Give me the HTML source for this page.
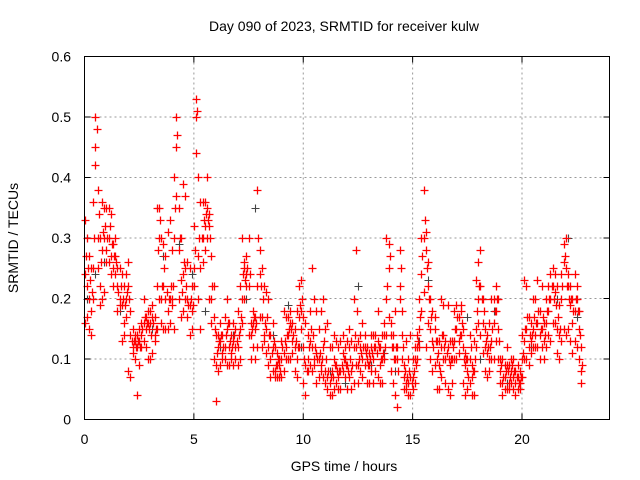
<!DOCTYPE html>
<html><head><meta charset="utf-8"><style>
html,body{margin:0;padding:0;background:#fff;}
svg{display:block;font-family:"Liberation Sans",sans-serif;}
.rp{stroke:#ff0000;stroke-width:1.3;fill:none;}
.gp{stroke:#444444;stroke-width:1.1;fill:none;}
</style></head><body>
<svg id="chart" width="640" height="480" viewBox="0 0 640 480">
<text x="344" y="31" font-size="14" text-anchor="middle" fill="#000">Day 090 of 2023, SRMTID for receiver kulw</text>
<text x="344" y="471" font-size="14" text-anchor="middle" fill="#000">GPS time / hours</text>
<text x="18" y="238" font-size="14" text-anchor="middle" fill="#000" transform="rotate(-90 18 238)">SRMTID / TECUs</text>
<g id="grid"></g>
<g id="ticks"></g>
<g id="marks"></g>
<rect x="84.5" y="56.5" width="525" height="363" fill="none" stroke="#000" stroke-width="1"/>
</svg>
<script>
const xTicks=[0,5,10,15,20];
const yTicks=[0,0.1,0.2,0.3,0.4,0.5,0.6];
const yTickLabels=["0","0.1","0.2","0.3","0.4","0.5","0.6"];
const timeStep=0.1;
const redA=[.24,.22,.2,.18,.25,.45,.3,.22,.28,.3,.28,.3,.27,.25,.27,.22,.2,.19,.16,.2,.22,.14,.12,.13,.12,.13,.14,.16,.15,.16,.16,.17,.14,.22,.3,.2,.22,.2,.18,.2,.2,.3,.45,.28,.23,.24,.25,.2,.19,.18,.25,.5,.27,.25,.3,.32,.35,.32,.2,.17,.09,.12,.13,.1,.12,.15,.12,.11,.13,.12,.12,.15,.2,.25,.24,.22,.14,.16,.15,.22,.24,.17,.14,.15,.12,.1,.12,.08,.09,.09,.1,.11,.12,.14,.16,.13,.12,.1,.17,.18,.12,.09,.1,.13,.12,.1,.11,.1,.09,.12,.08,.07,.06,.08,.1,.09,.07,.08,.11,.1,.09,.12,.08,.12,.12,.09,.12,.1,.12,.1,.09,.12,.1,.12,.13,.09,.1,.14,.2,.25,.14,.12,.1,.1,.22,.14,.07,.06,.06,.07,.07,.1,.12,.15,.24,.3,.28,.22,.15,.13,.15,.1,.09,.12,.14,.1,.12,.09,.1,.13,.15,.13,.18,.12,.09,.08,.1,.07,.08,.15,.2,.22,.16,.12,.11,.1,.13,.16,.18,.15,.08,.06,.07,.09,.06,.08,.07,.06,.07,.06,.1,.13,.15,.12,.13,.15,.14,.16,.14,.15,.13,.16,.18,.2,.22,.21,.15,.14,.2,.26,.25,.22,.19,.16,.18,.2,.15,.08];
const redB=[.33,.3,.27,.25,.36,.5,.38,.3,.36,.35,.35,.35,.34,.29,.3,.25,.25,.24,.22,.24,.26,.18,.15,.14,.14,.15,.16,.2,.17,.18,.18,.19,.17,.35,.35,.3,.29,.27,.31,.33,.28,.4,.5,.35,.3,.39,.37,.26,.25,.22,.32,.53,.4,.36,.36,.36,.4,.34,.27,.22,.14,.14,.16,.14,.17,.2,.16,.14,.16,.15,.18,.22,.3,.26,.27,.3,.16,.18,.17,.38,.28,.25,.22,.21,.2,.14,.16,.12,.11,.1,.13,.18,.17,.17,.18,.16,.15,.18,.22,.23,.17,.16,.14,.18,.25,.2,.18,.15,.18,.2,.15,.16,.12,.12,.14,.13,.12,.13,.14,.12,.13,.15,.13,.2,.28,.13,.14,.16,.14,.12,.11,.14,.14,.14,.18,.12,.14,.16,.3,.29,.16,.14,.18,.12,.28,.18,.09,.13,.1,.14,.1,.12,.14,.2,.3,.38,.31,.26,.2,.18,.17,.13,.13,.2,.19,.13,.19,.13,.13,.18,.19,.17,.19,.15,.11,.1,.14,.09,.13,.23,.26,.28,.2,.15,.14,.16,.2,.2,.22,.2,.1,.1,.09,.12,.09,.1,.1,.08,.09,.08,.14,.23,.22,.17,.16,.2,.2,.23,.18,.22,.16,.2,.22,.24,.25,.24,.22,.19,.24,.29,.3,.24,.22,.2,.24,.22,.18,.12];
const redC=[.16,.17,.15,.14,.2,.42,.25,.19,.2,.21,.26,.26,.24,.22,.24,.18,.19,.13,.14,.17,.08,.07,.11,.1,.04,.09,.12,.13,.12,.1,.1,.11,.13,.15,.2,.16,.15,.15,.15,.16,.19,.15,.37,.2,.17,.18,.2,.17,.14,.15,.22,.44,.2,.15,.26,.28,.3,.2,.16,.1,.03,.08,.09,.11,.1,.09,.09,.1,.09,.1,.09,.1,.16,.2,.22,.14,.1,.12,.1,.12,.17,.12,.13,.11,.09,.07,.08,.07,.07,.07,.07,.08,.1,.1,.1,.11,.08,.07,.12,.15,.06,.04,.08,.09,.08,.09,.06,.07,.08,.07,.06,.05,.04,.04,.05,.06,.05,.05,.08,.07,.05,.07,.05,.06,.09,.06,.08,.07,.09,.06,.06,.08,.06,.08,.07,.06,.06,.1,.14,.17,.08,.06,.04,.02,.2,.1,.05,.05,.04,.04,.05,.06,.1,.12,.18,.21,.12,.16,.1,.08,.09,.05,.05,.07,.1,.06,.05,.04,.06,.1,.1,.11,.14,.06,.04,.05,.06,.04,.04,.12,.16,.14,.11,.08,.07,.08,.1,.1,.13,.1,.06,.04,.05,.05,.05,.06,.05,.04,.05,.05,.07,.1,.1,.09,.11,.12,.12,.12,.1,.12,.1,.12,.14,.13,.16,.16,.11,.1,.13,.15,.14,.15,.13,.11,.13,.12,.1,.06];
const redD=[.27,.25,.23,.21,.3,.48,.34,.26,.31,.32,.3,.32,.29,.27,.26,.21,.22,.2,.19,.21,.2,.13,.13,.12,.13,.12,.15,.17,.16,.15,.14,.16,.15,.28,.33,.22,.25,.21,.2,.22,.22,.35,.47,.3,.21,.26,.22,.19,.2,.19,.28,.51,.3,.3,.33,.34,.33,.3,.22,.15,.11,.13,.14,.12,.14,.16,.13,.12,.14,.13,.14,.17,.24,.23,.25,.24,.15,.17,.16,.3,.22,.2,.16,.17,.14,.11,.13,.09,.1,.08,.12,.13,.14,.15,.15,.14,.13,.12,.19,.2,.1,.08,.12,.15,.14,.12,.1,.11,.1,.13,.1,.08,.07,.07,.09,.08,.08,.09,.1,.09,.08,.1,.09,.14,.18,.1,.11,.12,.11,.09,.1,.11,.12,.11,.12,.1,.11,.12,.22,.27,.12,.1,.12,.08,.25,.12,.08,.07,.08,.06,.08,.09,.13,.17,.27,.33,.25,.2,.17,.12,.13,.11,.08,.14,.12,.11,.1,.1,.12,.15,.17,.14,.16,.1,.1,.07,.12,.08,.1,.18,.22,.2,.18,.13,.12,.12,.15,.18,.2,.13,.09,.07,.08,.08,.07,.09,.08,.07,.06,.07,.11,.15,.17,.14,.14,.17,.16,.18,.15,.17,.14,.18,.2,.22,.2,.19,.17,.15,.22,.27,.22,.2,.2,.18,.2,.18,.14,.09];
const grayT=[0.1,0.5,0.9,1.6,2.3,3.1,3.6,4.3,4.9,5.5,6.2,6.8,7.4,7.8,8.6,9.3,9.9,10.6,11.2,11.9,12.5,13.1,13.7,14.2,14.8,15.3,15.7,16.4,16.9,17.5,18.1,18.7,19.3,19.8,20.4,21.0,21.6,22.1,22.5];
const grayV=[.2,.24,.26,.18,.13,.15,.27,.29,.24,.18,.12,.14,.2,.35,.14,.19,.12,.11,.08,.06,.22,.09,.11,.08,.06,.13,.23,.1,.13,.17,.1,.18,.06,.05,.12,.16,.2,.3,.17];
const X0=84.5,X1=609.5,Y0=419.5,Y1=56.5;
function xs(t){return X0+(t-0)/(24-0)*(X1-X0);}
function ys(v){return Y0-(v-0)/(0.6-0)*(Y0-Y1);}
const NS="http://www.w3.org/2000/svg";
const grid=document.getElementById('grid'),ticks=document.getElementById('ticks'),marks=document.getElementById('marks');
function mk(tag,attrs,parent){const e=document.createElementNS(NS,tag);for(const k in attrs)e.setAttribute(k,attrs[k]);parent.appendChild(e);return e;}
xTicks.forEach(t=>{const x=xs(t);
 if(t>0){const g=mk('line',{x1:x,y1:Y0,x2:x,y2:Y1,stroke:'#999','stroke-dasharray':'2,3'},grid);
 
 }
 const l=mk('text',{x:x,y:444,'font-size':14,'text-anchor':'middle',fill:'#000'},ticks);l.textContent=String(t);
 
 
 mk('line',{x1:x,y1:Y0,x2:x,y2:Y0-6,stroke:'#000'},ticks);
 mk('line',{x1:x,y1:Y1,x2:x,y2:Y1+6,stroke:'#000'},ticks);
});
yTicks.forEach((v,i)=>{const y=ys(v);
 if(v>0&&v<0.6){const g=mk('line',{x1:X0,y1:y,x2:X1,y2:y,stroke:'#999','stroke-dasharray':'2,3'},grid);
 
 }
 const l=mk('text',{x:71,y:y+5,'font-size':14,'text-anchor':'end',fill:'#000'},ticks);l.textContent=yTickLabels[i];
 
 
 mk('line',{x1:X0,y1:y,x2:X0+6,y2:y,stroke:'#000'},ticks);
 mk('line',{x1:X1,y1:y,x2:X1-6,y2:y,stroke:'#000'},ticks);
});
function plus(t,v,cls,name){const x=Math.round(xs(t))+0.5,y=Math.round(ys(v))+0.5;
 const p=mk('path',{d:'M'+(x-4)+' '+y+'H'+(x+4)+'M'+x+' '+(y-4)+'V'+(y+4),'class':cls},marks);
 
 }
grayT.forEach((t,i)=>plus(t,grayV[i],'gp','gray-point'));
[redA,redB,redC].forEach(s=>s.forEach((v,i)=>plus(i*timeStep,v,'rp','red-point')));
redD.forEach((v,i)=>plus(i*timeStep+timeStep/2,v,'rp','red-point'));
</script>
</body></html>
